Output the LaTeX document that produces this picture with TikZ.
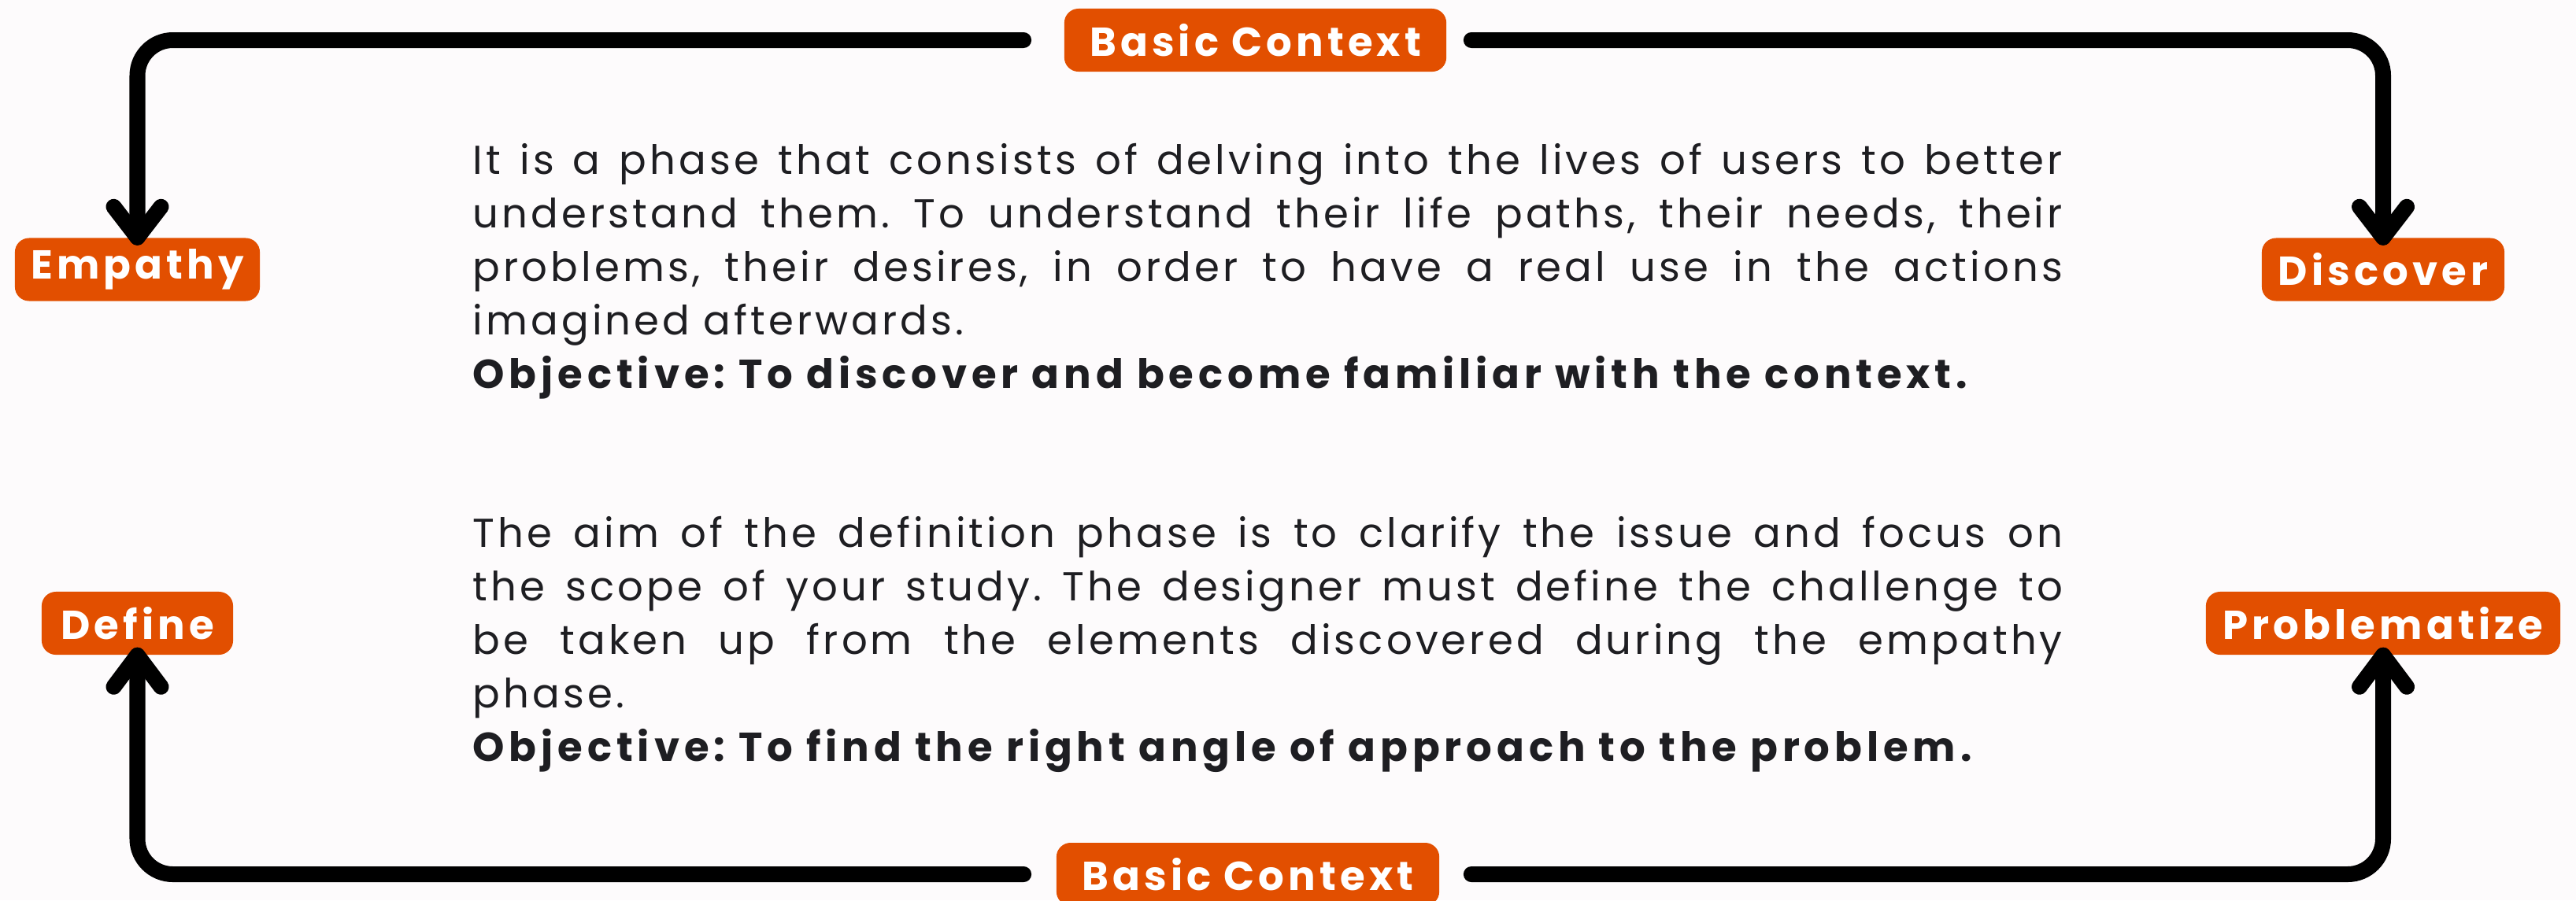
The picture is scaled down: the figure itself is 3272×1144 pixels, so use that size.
\documentclass[tikz,border=0pt]{standalone}
\usepackage{fontspec}
\setmainfont{Poppins}[LetterSpace=8, BoldFeatures={LetterSpace=11.5}]
\newfontfamily\tagfont{Poppins}[LetterSpace=10]
\definecolor{paper}{RGB}{253,251,252}
\definecolor{phaseorange}{RGB}{226,79,0}
\definecolor{ink}{RGB}{30,30,34}
% one justified line spanning the full text block: word spaces take up the slack
\newcommand\fullline[1]{\hbox to \hsize{\spaceskip=\fontdimen2\font plus 1fil\relax #1}\par}
\frenchspacing
\begin{document}
\begin{tikzpicture}[x=0.01cm,y=-0.01cm,
  flow/.style={line width=0.2cm, line cap=round, line join=round, rounded corners=0.45cm},
  head/.style={line width=0.2cm, line cap=round, line join=round},
  tag/.style={fill=phaseorange, text=white, rounded corners=0.18cm,
    minimum height=0.8cm, inner sep=0pt,
    font=\tagfont\bfseries\fontsize{14.6pt}{16pt}\selectfont},
  body/.style={anchor=base west, text width=20.18cm, inner sep=0pt, text=ink,
    align=left, font=\frenchspacing\fontsize{14.6pt}{19.35pt}\selectfont}]
\fill[paper] (0,0) rectangle (3272,1144);
\useasboundingbox (0,0) rectangle (3272,1144);

% phase tags
\node[tag, minimum width=4.85cm] (ctxtop) at (1594.5,51) {Basic Context};
\node[tag, minimum width=3.11cm] (empathy) at (174.5,342.5) {Empathy};
\node[tag, minimum width=3.08cm] (discover) at (3027,342.5) {Discover};
\node[tag, minimum width=2.43cm] (define) at (174.5,792) {Define};
\node[tag, minimum width=4.50cm] (problem) at (3027,792) {Problematize};
\node[tag, minimum width=4.86cm] (ctxbot) at (1585,1111) {Basic Context};

% loop connectors
\draw[flow] ([xshift=-0.51cm]ctxtop.west) -| (empathy.north);
\draw[flow] ([xshift=0.31cm]ctxtop.east) -| (discover.north);
\draw[flow] ([xshift=-0.41cm]ctxbot.west) -| (define.south);
\draw[flow] ([xshift=0.40cm]ctxbot.east) -| (problem.south);

% arrow heads
\draw[head] ([xshift=-0.3cm,yshift=0.39cm]empathy.north) -- (empathy.north) -- ([xshift=0.3cm,yshift=0.39cm]empathy.north);
\draw[head] ([xshift=-0.3cm,yshift=0.39cm]discover.north) -- (discover.north) -- ([xshift=0.3cm,yshift=0.39cm]discover.north);
\draw[head] ([xshift=-0.3cm,yshift=-0.40cm]define.south) -- (define.south) -- ([xshift=0.3cm,yshift=-0.40cm]define.south);
\draw[head] ([xshift=-0.3cm,yshift=-0.40cm]problem.south) -- (problem.south) -- ([xshift=0.3cm,yshift=-0.40cm]problem.south);

% phase descriptions
\node[body] (empathytext) at (600,221) {%
\fullline{It is a phase that consists of delving into the lives of users to better}
\fullline{understand them. To understand their life paths, their needs, their}
\fullline{problems, their desires, in order to have a real use in the actions}
imagined afterwards.\par
\textbf{Objective: To discover and become familiar with the context.}};

\node[body] (definetext) at (600,695) {%
\fullline{The aim of the definition phase is to clarify the issue and focus on}
\fullline{the scope of your study. The designer must define the challenge to}
\fullline{be taken up from the elements discovered during the empathy}
phase.\par
\textbf{Objective: To find the right angle of approach to the problem.}};
\end{tikzpicture}
\end{document}
